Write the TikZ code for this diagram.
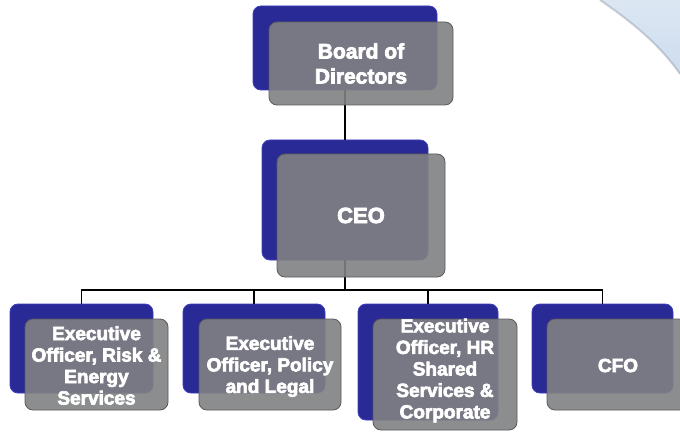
\documentclass[tikz,border=0pt]{standalone}
\usepackage{fontspec}
\setmainfont{Liberation Sans}
\newfontfamily\heavy{Liberation Sans Bold}[FakeBold=3.5]
\begin{document}
\begin{tikzpicture}[x=1pt,y=-1pt,
  backbox/.style={draw=blueedge,line width=0.8pt,fill=bluefill,rounded corners=8pt,inner sep=0pt,minimum width=#1},
  frontbox/.style={draw=grayedge,line width=0.8pt,fill=grayfill,fill opacity=0.9,rounded corners=8pt,inner sep=0pt},
  lbl/.style={text=white,font=\heavy\fontsize{19}{21.5}\selectfont,align=center,text opacity=1},
  conn/.style={draw=black,line width=1.2pt}]
\definecolor{bluefill}{RGB}{42,42,150}
\definecolor{blueedge}{RGB}{60,60,190}
\definecolor{grayfill}{RGB}{128,129,130}
\definecolor{grayedge}{RGB}{90,90,92}
\definecolor{swoosh}{RGB}{205,220,238}
\useasboundingbox (0,0) rectangle (680,433);
% background swoosh top right
\shade[top color=swoosh!70!white,bottom color=swoosh] (600,0) .. controls (632,22) and (660,45) .. (680,74) -- (680,0) -- cycle;
\draw[color=swoosh!60!black,line width=2pt,opacity=0.35] (600,0) .. controls (632,22) and (660,45) .. (680,74);
% back (blue) boxes
\node[backbox=184pt,minimum height=84pt] (boardb) at (345,48) {};
\node[backbox=166pt,minimum height=120pt] (ceob) at (345,200) {};
\node[backbox=143pt,minimum height=89pt] (b1b) at (81.5,348.5) {};
\node[backbox=142pt,minimum height=89pt] (b2b) at (254,348.5) {};
\node[backbox=140pt,minimum height=116pt] (b3b) at (428,362) {};
\node[backbox=141pt,minimum height=89pt] (b4b) at (602.5,348.5) {};
% connectors
\draw[conn] (boardb.south) -- (ceob.north);
\coordinate (bus) at (345,290);
\draw[conn] (ceob.south) -- (bus);
\draw[conn] (bus) -| (b1b.north);
\draw[conn] (bus) -| (b2b.north);
\draw[conn] (bus) -| (b3b.north);
\draw[conn] (bus) -| (b4b.north);
% front (gray) boxes
\node[frontbox,minimum width=184pt,minimum height=83pt] (board) at (361,63.5) {};
\node[frontbox,minimum width=168pt,minimum height=123pt] (ceo) at (361,215.5) {};
\node[frontbox,minimum width=143pt,minimum height=91pt] (b1) at (96.5,364.5) {};
\node[frontbox,minimum width=142pt,minimum height=91pt] (b2) at (270,364.5) {};
\node[frontbox,minimum width=144pt,minimum height=111pt] (b3) at (445,374.5) {};
\node[frontbox,minimum width=142pt,minimum height=91pt] (b4) at (618,364.5) {};
% labels
\node[lbl,font=\heavy\fontsize{21}{25}\selectfont] at (board.center) {Board of\\Directors};
\node[lbl,font=\heavy\fontsize{22}{25}\selectfont] at (ceo.center) {CEO};
\node[lbl] at ([yshift=-1pt]b1.center) {Executive\\Officer, Risk \&\\Energy\\Services};
\node[lbl] at ([yshift=-2pt]b2.center) {Executive\\Officer, Policy\\and Legal};
\node[lbl] at ([yshift=4pt]b3.center) {Executive\\Officer, HR\\Shared\\Services \&\\Corporate};
\node[lbl] at ([yshift=-1pt]b4.center) {CFO};
\end{tikzpicture}
\end{document}
